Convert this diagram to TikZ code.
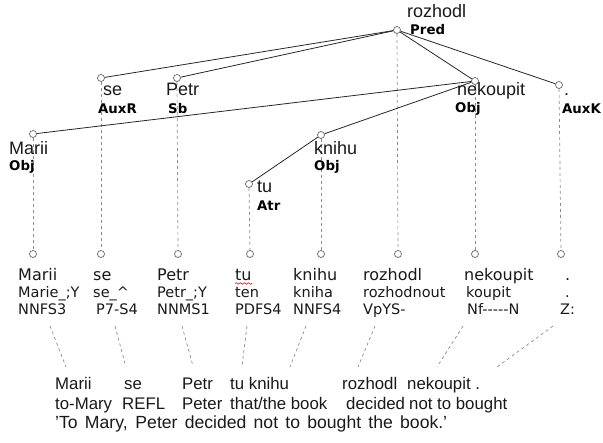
\documentclass[tikz,border=0pt]{standalone}
\usepackage{fontspec}
\setmainfont{Liberation Sans}
\newfontfamily\dvfont{DejaVu Sans}
\usetikzlibrary{decorations.pathmorphing}
\begin{document}
\begin{tikzpicture}[x=1pt,y=-1pt,
  nd/.style={circle,draw=black!60,fill=white,inner sep=0pt,minimum size=7pt,line width=0.7pt},
  edge/.style={draw=black!85,line width=0.8pt},
  proj/.style={draw=black!45,dash pattern=on 3pt off 3pt,line width=0.7pt},
  wd/.style={anchor=base west,inner sep=0pt,text=black!90,font=\fontsize{18}{20}\selectfont},
  fn/.style={anchor=base west,inner sep=0pt,font=\dvfont\bfseries\fontsize{13.3}{15}\selectfont},
  tok/.style={anchor=base west,inner sep=0pt,text=black!90,font=\dvfont\fontsize{16}{18}\selectfont},
  sub/.style={anchor=base west,inner sep=0pt,text=black!90,font=\dvfont\fontsize{14.5}{16}\selectfont},
  gl/.style={anchor=base west,inner sep=0pt,text=black!90,font=\fontsize{16.8}{19}\selectfont},
]
\useasboundingbox (0,0) rectangle (603,443);
% tree nodes
\node[nd] (rozhodl) at (397,30) {};
\node[nd] (se) at (101,78) {};
\node[nd] (petr) at (177,78) {};
\node[nd] (nekoupit) at (475,81) {};
\node[nd] (dot) at (559,85) {};
\node[nd] (marii) at (33,134) {};
\node[nd] (knihu) at (321,135) {};
\node[nd] (tu) at (249,184) {};
% bottom nodes
\node[nd] (bmarii) at (33,254) {};
\node[nd] (bse) at (101,254) {};
\node[nd] (bpetr) at (178,254) {};
\node[nd] (btu) at (250,254) {};
\node[nd] (bknihu) at (321,254) {};
\node[nd] (brozhodl) at (398,254) {};
\node[nd] (bnekoupit) at (475,254) {};
\node[nd] (bdot) at (561,254) {};
% projections
\foreach \a/\b in {rozhodl/brozhodl,se/bse,petr/bpetr,nekoupit/bnekoupit,dot/bdot,marii/bmarii,knihu/bknihu,tu/btu}
  \draw[proj] (\a) -- (\b);
% edges
\draw[edge] (rozhodl) -- (se);
\draw[edge] (rozhodl) -- (petr);
\draw[edge] (rozhodl) -- (nekoupit);
\draw[edge] (rozhodl) -- (dot);
\draw[edge] (nekoupit) -- (marii);
\draw[edge] (nekoupit) -- (knihu);
\draw[edge] (knihu) -- (tu);
% tree labels
\node[wd] (w1) at (407,18) {rozhodl};
\node[fn] (f1) at (410,35) {Pred};
\node[wd] (w2) at (103,96) {se};
\node[fn] (f2) at (98,114) {AuxR};
\node[wd] (w3) at (166,96) {Petr};
\node[fn] (f3) at (168,114) {Sb};
\node[wd] (w4) at (457,96) {nekoupit};
\node[fn] (f4) at (455,113) {Obj};
\node[wd] (w5) at (564,96) {.};
\node[fn] (f5) at (562,114) {AuxK};
\node[wd] (w6) at (9,155) {Marii};
\node[fn] (f6) at (9,171) {Obj};
\node[wd] (w7) at (314,155) {knihu};
\node[fn] (f7) at (314,171) {Obj};
\node[wd] (w8) at (257,193) {tu};
\node[fn] (f8) at (257,211) {Atr};
% token rows
\node[tok] (ta) at (18,281) {Marii};
\node[sub] (la) at (18,298) {Marie\_;Y};
\node[sub] (ga) at (18,315) {NNFS3};
\node[tok] (tb) at (93,281) {se};
\node[sub] (lb) at (93,298) {se\_\textasciicircum};
\node[sub] (gb) at (96,315) {P7-S4};
\node[tok] (tc) at (157,281) {Petr};
\node[sub] (lc) at (157,298) {Petr\_;Y};
\node[sub] (gc) at (157,315) {NNMS1};
\node[tok] (td) at (235,281) {tu};
\node[sub] (ld) at (235,298) {ten};
\node[sub] (gd) at (235,315) {PDFS4};
\node[tok] (te) at (293,281) {knihu};
\node[sub] (le) at (293,298) {kniha};
\node[sub] (ge) at (293,315) {NNFS4};
\node[tok] (tf) at (363,281) {rozhodl};
\node[sub] (lf) at (363,298) {rozhodnout};
\node[sub] (gf) at (363,315) {VpYS-};
\node[tok] (tg) at (464,281) {nekoupit};
\node[sub] (lg) at (466,298) {koupit};
\node[sub] (gg) at (467,315) {Nf-----N};
\node[tok] (th) at (565,281) {.};
\node[sub] (lh) at (565,298) {.};
\node[sub] (gh) at (560,315) {Z:};
\draw[red!85!black,line width=0.6pt,decorate,decoration={snake,amplitude=0.8pt,segment length=4pt}] (td.base west) ++(0,2.5) coordinate (sq1) -- ++(17,0) coordinate (sq2);
% gloss
\node[gl] (g1a) at (55,390) {Marii};
\node[gl] (g1b) at (124,390) {se};
\node[gl] (g1c) at (182,390) {Petr};
\node[gl] (g1d) at (230,390) {tu knihu};
\node[gl] (g1e) at (342,390) {rozhodl};
\node[gl] (g1f) at (407,390) {nekoupit .};
\node[gl] (g2a) at (55,410) {to-Mary};
\node[gl] (g2b) at (122,410) {REFL};
\node[gl] (g2c) at (182,410) {Peter};
\node[gl] (g2d) at (230,410) {that/the book};
\node[gl] (g2e) at (346,410) {decided};
\node[gl] (g2f) at (409,410) {not to bought};
\node[gl,font=\fontsize{17.6}{19}\selectfont] (g3) at (55,429) {\hbox to 392pt{\symbol{39}To Mary, Peter decided not to bought the book.\symbol{39}}};
% alignment connectors
\coordinate (sa) at (50,326); \coordinate (ea) at (66,367);
\coordinate (sb) at (115,326); \coordinate (eb) at (126,367);
\coordinate (sc) at (182,326); \coordinate (ec) at (193,366);
\coordinate (sd) at (247,326); \coordinate (ed) at (242,366);
\coordinate (se2) at (306,326); \coordinate (ee) at (290,367);
\coordinate (sf) at (375,326); \coordinate (ef) at (358,367);
\coordinate (sg) at (463,326); \coordinate (eg) at (437,367);
\coordinate (sh) at (553,326); \coordinate (eh) at (497,367);
\foreach \s/\e in {sa/ea,sb/eb,sc/ec,sd/ed,se2/ee,sf/ef,sg/eg,sh/eh}
  \draw[proj] (\s) -- (\e);
\end{tikzpicture}
\end{document}
